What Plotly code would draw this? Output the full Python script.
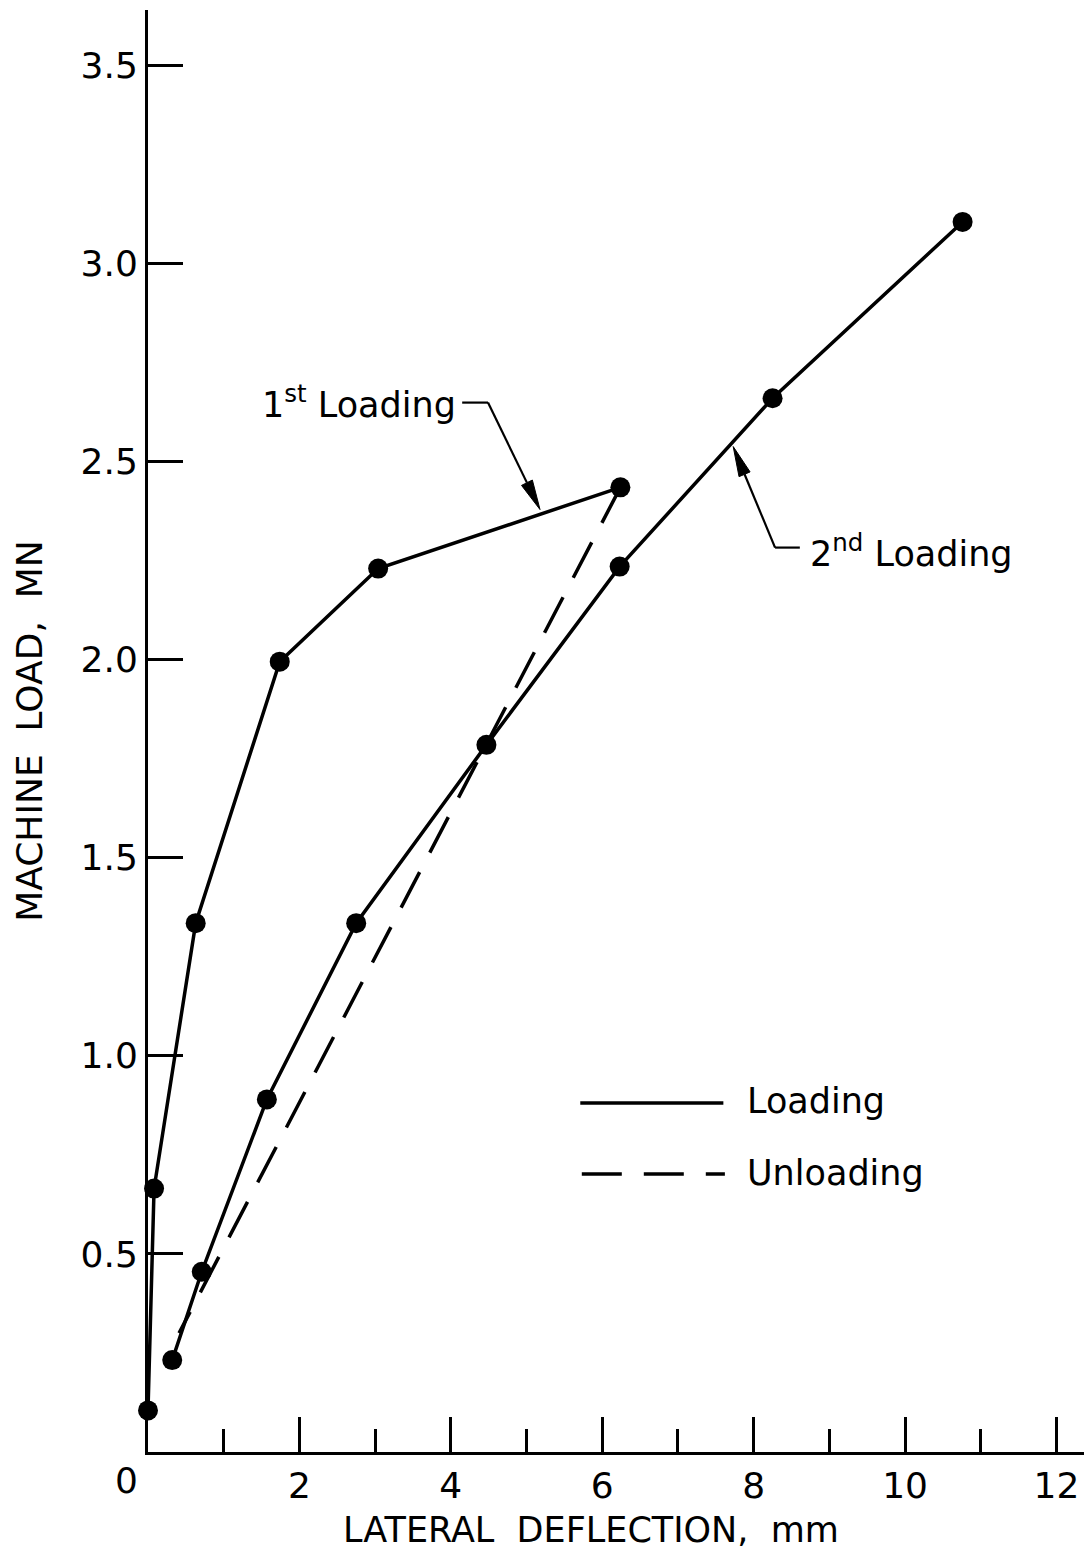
import plotly.graph_objects as go

# ---- data ----
first_x = [0.0, 0.08, 0.63, 1.74, 3.04, 6.24]
first_y = [0.105, 0.665, 1.335, 1.995, 2.23, 2.435]

unload_x = [6.24, 0.41]
unload_y = [2.435, 0.30]

second_x = [0.32, 0.71, 1.57, 2.75, 4.47, 6.23, 8.25, 10.76]
second_y = [0.232, 0.455, 0.89, 1.335, 1.785, 2.235, 2.66, 3.105]

x_major = [2, 4, 6, 8, 10, 12]
x_labels = ["2", "4", "6", "8", "10", "12"]
y_major = [0.5, 1.0, 1.5, 2.0, 2.5, 3.0, 3.5]
y_labels = ["0.5", "1.0", "1.5", "2.0", "2.5", "3.0", "3.5"]

FONT = "DejaVu Sans"
BLACK = "black"

fig = go.Figure()

fig.add_trace(go.Scatter(x=unload_x, y=unload_y, mode="lines",
                         line=dict(color=BLACK, width=3.5, dash="40px,22px"),
                         cliponaxis=False, showlegend=False))
fig.add_trace(go.Scatter(x=first_x, y=first_y, mode="lines+markers",
                         line=dict(color=BLACK, width=3.5),
                         marker=dict(color=BLACK, size=20),
                         cliponaxis=False, showlegend=False))
fig.add_trace(go.Scatter(x=second_x, y=second_y, mode="lines+markers",
                         line=dict(color=BLACK, width=3.5),
                         marker=dict(color=BLACK, size=20),
                         cliponaxis=False, showlegend=False))

fig.update_xaxes(range=[0, 12.39], showline=True, linecolor=BLACK, linewidth=3,
                 ticks="inside", ticklen=35, tickwidth=2.5, tickcolor=BLACK,
                 tickvals=x_major, ticktext=x_labels, automargin=False,
                 tickfont=dict(family=FONT, size=36, color=BLACK),
                 minor=dict(dtick=1, tick0=1, ticks="inside", ticklen=23,
                            tickwidth=2.5, tickcolor=BLACK, showgrid=False),
                 showgrid=False, zeroline=False)
fig.update_yaxes(range=[0, 3.64], showline=True, linecolor=BLACK, linewidth=3,
                 ticks="inside", ticklen=35, tickwidth=2.5, tickcolor=BLACK,
                 tickvals=y_major, ticktext=y_labels, automargin=False,
                 tickfont=dict(family=FONT, size=36, color=BLACK),
                 showgrid=False, zeroline=False)

annotations = [
    # "0" tick label (slightly left of the origin as in the reference)
    dict(x=-0.023, y=-0.004, xref="paper", yref="paper", text="0", showarrow=False,
         xanchor="center", yanchor="top", font=dict(family=FONT, size=36, color=BLACK)),
    # axis titles
    dict(x=0.472, y=-0.054, xref="paper", yref="paper",
         text="LATERAL  DEFLECTION,  mm", showarrow=False,
         xanchor="center", yanchor="middle",
         font=dict(family=FONT, size=35, color=BLACK)),
    dict(x=-0.127, y=0.5, xref="paper", yref="paper",
         text="MACHINE  LOAD,  MN", showarrow=False, textangle=-90,
         xanchor="center", yanchor="middle",
         font=dict(family=FONT, size=36, color=BLACK)),
    # 1st / 2nd loading labels
    dict(x=4.10, y=2.65, xref="x", yref="y", text="1<sup>st</sup> Loading",
         showarrow=False, xanchor="right", yanchor="middle",
         font=dict(family=FONT, size=35, color=BLACK)),
    dict(x=8.72, y=2.275, xref="x", yref="y", text="2<sup>nd</sup> Loading",
         showarrow=False, xanchor="left", yanchor="middle",
         font=dict(family=FONT, size=35, color=BLACK)),
    # legend texts
    dict(x=7.89, y=0.885, xref="x", yref="y", text="Loading", showarrow=False,
         xanchor="left", yanchor="middle", font=dict(family=FONT, size=35, color=BLACK)),
    dict(x=7.89, y=0.705, xref="x", yref="y", text="Unloading", showarrow=False,
         xanchor="left", yanchor="middle", font=dict(family=FONT, size=35, color=BLACK)),
]

LEADER = dict(color=BLACK, width=2.2)
shapes = [
    # 1st loading leader: stub, shaft, arrowhead
    dict(type="line", xref="x", yref="y", x0=4.15, y0=2.649, x1=4.491, y1=2.649, line=LEADER),
    dict(type="line", xref="x", yref="y", x0=4.491, y0=2.649, x1=5.005, y1=2.447, line=LEADER),
    dict(type="path", xref="x", yref="y",
         path="M 5.178,2.379 L 5.077,2.4535 L 4.934,2.440 Z",
         fillcolor=BLACK, line=dict(color=BLACK, width=1)),
    # 2nd loading leader: stub, shaft, arrowhead
    dict(type="line", xref="x", yref="y", x0=8.283, y0=2.283, x1=8.61, y1=2.283, line=LEADER),
    dict(type="line", xref="x", yref="y", x0=8.283, y0=2.283, x1=7.880, y1=2.468, line=LEADER),
    dict(type="path", xref="x", yref="y",
         path="M 7.730,2.538 L 7.953,2.474 L 7.807,2.462 Z",
         fillcolor=BLACK, line=dict(color=BLACK, width=1)),
    # legend keys
    dict(type="line", xref="x", yref="y", x0=5.71, y0=0.881, x1=7.6, y1=0.881,
         line=dict(color=BLACK, width=3.5)),
    dict(type="line", xref="x", yref="y", x0=5.73, y0=0.702, x1=7.62, y1=0.702,
         line=dict(color=BLACK, width=3.5, dash="40px,22px")),
]

# the page body adds an 8px offset, so the figure is 8px smaller and margins shifted
fig.update_layout(width=1084, height=1559,
                  margin=dict(l=140, r=6, t=2, b=115),
                  paper_bgcolor="white", plot_bgcolor="white",
                  annotations=annotations, shapes=shapes,
                  showlegend=False)

fig.write_html("out.html")
